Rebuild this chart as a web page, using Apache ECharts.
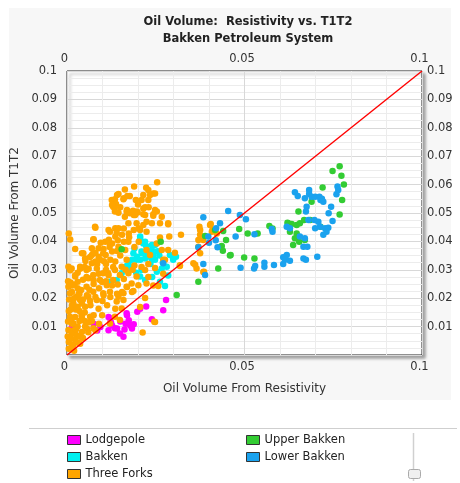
<!DOCTYPE html>
<html>
<head>
<meta charset="utf-8">
<script src="https://cdn.jsdelivr.net/npm/echarts@6/dist/echarts.min.js"></script>
<style>
html,body{margin:0;padding:0;background:#fff;}
#chart{width:460px;height:483px;}
</style>
</head>
<body>
<div id="chart"></div>
<script>
// ---- Data (Oil volume fractions) ----
const titleLines = ['Oil Volume:  Resistivity vs. T1T2', 'Bakken Petroleum System'];
const xAxisName = 'Oil Volume From Resistivity';
const yAxisName = 'Oil Volume From T1T2';
const seriesNames = ['Lodgepole', 'Bakken', 'Three Forks', 'Upper Bakken', 'Lower Bakken'];
const oneToOne = [[0, 0], [0.1, 0.1]];

const lodgepole = [
[0.0223,0.0171],[0.0279,0.0194],[0.0271,0.0158],[0.0239,0.0126],[0.0198,0.0152],[0.0206,0.0163],
[0.0168,0.0147],[0.0169,0.0140],[0.0174,0.0122],[0.0178,0.0104],[0.0183,0.0093],[0.0165,0.0110],
[0.0150,0.0118],[0.0121,0.0129],[0.0117,0.0134],[0.0124,0.0114],[0.0127,0.0104],[0.0135,0.0094],
[0.0141,0.0093],[0.0149,0.0076],[0.0159,0.0064],[0.0117,0.0087],[0.0094,0.0099],[0.0085,0.0086],
[0.0075,0.0110],[0.0014,0.0099],[0.0188,0.0108],[0.0162,0.0090]
];

const bakken = [
[0.0206,0.0411],[0.0215,0.0393],[0.0223,0.0384],[0.0232,0.0367],[0.0239,0.0370],[0.0226,0.0346],
[0.0187,0.0358],[0.0196,0.0335],[0.0182,0.0311],[0.0210,0.0299],[0.0206,0.0276],[0.0220,0.0264],
[0.0253,0.0293],[0.0267,0.0305],[0.0281,0.0311],[0.0262,0.0258],[0.0276,0.0243],[0.0299,0.0335],
[0.0307,0.0346],[0.0248,0.0335],[0.0235,0.0320],[0.0168,0.0313],[0.0154,0.0288],[0.0140,0.0264],
[0.0121,0.0258],[0.0206,0.0417],[0.0220,0.0399],[0.0239,0.0387],[0.0248,0.0387],[0.0210,0.0364],
[0.0229,0.0358],[0.0243,0.0352],[0.0206,0.0335],[0.0220,0.0340],[0.0239,0.0335],[0.0290,0.0352],
[0.0299,0.0340],[0.0183,0.0335],[0.0197,0.0346],[0.0211,0.0358],[0.0206,0.0399],[0.0190,0.0375],
[0.0175,0.0330],[0.0255,0.0365],[0.0270,0.0325],[0.0195,0.0290],[0.0240,0.0275],[0.0285,0.0280],
[0.0170,0.0300],[0.0260,0.0350]
];

const threeForks = [
[0.0254,0.0608],[0.0189,0.0593],[0.0163,0.0583],[0.0223,0.0589],[0.0229,0.0581],[0.0145,0.0567],
[0.0177,0.0560],[0.0215,0.0563],[0.0234,0.0563],[0.0248,0.0569],[0.0126,0.0546],[0.0135,0.0548],
[0.0159,0.0548],[0.0194,0.0546],[0.0229,0.0546],[0.0130,0.0522],[0.0138,0.0532],[0.0220,0.0520],
[0.0135,0.0505],[0.0145,0.0501],[0.0168,0.0505],[0.0177,0.0499],[0.0186,0.0508],[0.0199,0.0502],
[0.0215,0.0496],[0.0243,0.0496],[0.0253,0.0505],[0.0160,0.0552],[0.0141,0.0563],[0.0127,0.0528],
[0.0134,0.0517],[0.0169,0.0511],[0.0188,0.0493],[0.0197,0.0505],[0.0243,0.0569],[0.0210,0.0546],
[0.0215,0.0516],[0.0248,0.0511],[0.0243,0.0490],[0.0267,0.0487],[0.0285,0.0460],[0.0224,0.0469],
[0.0239,0.0464],[0.0262,0.0464],[0.0285,0.0464],[0.0196,0.0464],[0.0173,0.0464],[0.0163,0.0487],
[0.0192,0.0493],[0.0220,0.0493],
[0.0080,0.0448],[0.0117,0.0440],[0.0136,0.0446],[0.0145,0.0446],[0.0136,0.0417],[0.0155,0.0423],
[0.0174,0.0428],[0.0188,0.0440],[0.0202,0.0446],[0.0206,0.0440],[0.0224,0.0434],[0.0215,0.0458],
[0.0121,0.0434],[0.0079,0.0452],[0.0005,0.0428],[0.0009,0.0407],[0.0023,0.0373],[0.0075,0.0408],
[0.0108,0.0399],[0.0118,0.0406],[0.0127,0.0393],[0.0143,0.0404],[0.0160,0.0399],[0.0173,0.0399],
[0.0202,0.0399],[0.0089,0.0376],[0.0103,0.0373],[0.0042,0.0358],[0.0070,0.0352],[0.0089,0.0346],
[0.0109,0.0352],[0.0127,0.0364],[0.0141,0.0366],[0.0164,0.0370],[0.0145,0.0381],[0.0121,0.0393],
[0.0070,0.0376],[0.0074,0.0407],[0.0046,0.0358],[0.0074,0.0358],[0.0102,0.0358],[0.0052,0.0331],
[0.0080,0.0329],[0.0104,0.0330],[0.0122,0.0335],[0.0136,0.0329],[0.0093,0.0335],[0.0168,0.0335],
[0.0051,0.0340],[0.0070,0.0323],[0.0037,0.0311],[0.0004,0.0311],[0.0013,0.0305],[0.0023,0.0276],
[0.0055,0.0299],[0.0084,0.0305],[0.0102,0.0288],[0.0116,0.0288],[0.0135,0.0299],[0.0149,0.0282],
[0.0154,0.0311],[0.0074,0.0282],[0.0093,0.0264],[0.0130,0.0264],[0.0112,0.0246],[0.0004,0.0240],
[0.0008,0.0217],[0.0027,0.0205],[0.0018,0.0182],[0.0037,0.0194],[0.0055,0.0240],[0.0074,0.0223],
[0.0060,0.0205],[0.0084,0.0194],[0.0051,0.0170],[0.0041,0.0141],[0.0065,0.0135],[0.0008,0.0135],
[0.0018,0.0111],[0.0004,0.0088],[0.0023,0.0076],[0.0037,0.0064],[0.0008,0.0053],[0.0018,0.0035],
[0.0032,0.0043],[0.0051,0.0100],[0.0074,0.0094],[0.0121,0.0111],[0.0135,0.0135],[0.0149,0.0123],
[0.0154,0.0164],[0.0140,0.0188],[0.0159,0.0194],[0.0145,0.0205],[0.0102,0.0217],[0.0121,0.0223],
[0.0159,0.0217],[0.0168,0.0240],[0.0182,0.0252],[0.0201,0.0246],[0.0224,0.0252],[0.0196,0.0276],
[0.0220,0.0299],[0.0229,0.0320],[0.0271,0.0335],[0.0224,0.0370],[0.0253,0.0393],[0.0262,0.0414],
[0.0285,0.0370],[0.0304,0.0360],[0.0318,0.0313],[0.0246,0.0117],[0.0213,0.0079],[0.0288,0.0417],
[0.0321,0.0423],[0.0234,0.0352],[0.0267,0.0370],[0.0276,0.0335],[0.0373,0.0452],[0.0375,0.0423],
[0.0403,0.0458],[0.0410,0.0440],[0.0375,0.0358],[0.0370,0.0381],[0.0370,0.0405],[0.0356,0.0323],
[0.0365,0.0305],[0.0386,0.0293],[0.0405,0.0461],[0.0422,0.0428],[0.0009,0.0298],[0.0023,0.0281],
[0.0037,0.0304],[0.0061,0.0304],[0.0089,0.0286],[0.0117,0.0281],[0.0075,0.0263],[0.0099,0.0257],
[0.0127,0.0245],[0.0014,0.0222],[0.0033,0.0216],[0.0056,0.0210],[0.0080,0.0204],[0.0103,0.0210],
[0.0122,0.0204],[0.0141,0.0216],[0.0155,0.0222],[0.0169,0.0239],[0.0183,0.0222],[0.0014,0.0175],
[0.0042,0.0181],[0.0066,0.0175],[0.0089,0.0163],[0.0113,0.0175],[0.0136,0.0163],[0.0099,0.0140],
[0.0075,0.0140],[0.0042,0.0134],[0.0023,0.0134],[0.0014,0.0110],[0.0019,0.0087],[0.0014,0.0075],
[0.0028,0.0069],[0.0042,0.0081],[0.0056,0.0093],[0.0080,0.0087],[0.0005,0.0046],[0.0014,0.0034],
[0.0023,0.0055],[0.0005,0.0022],[0.0037,0.0040],[0.0210,0.0310],[0.0248,0.0306],[0.0229,0.0275],
[0.0243,0.0245],[0.0257,0.0243],[0.0271,0.0286],[0.0318,0.0316],[0.0361,0.0318],[0.0384,0.0292],
[0.0206,0.0169],[0.0248,0.0116],[0.0220,0.0201],[0.0384,0.0405],[0.0408,0.0434],[0.0375,0.0440],
[0.0003,0.0260],[0.0010,0.0255],[0.0020,0.0248],[0.0030,0.0235],[0.0006,0.0195],[0.0025,0.0160],
[0.0035,0.0155],[0.0005,0.0155],[0.0050,0.0120],[0.0030,0.0100],[0.0003,0.0118],[0.0062,0.0115],
[0.0020,0.0015],[0.0002,0.0065],[0.0045,0.0265],[0.0060,0.0270],[0.0030,0.0258],[0.0040,0.0229],
[0.0063,0.0230],[0.0090,0.0235],[0.0110,0.0260],[0.0143,0.0248],[0.0160,0.0268],[0.0173,0.0288],
[0.0185,0.0300],[0.0165,0.0300],[0.0190,0.0315],[0.0187,0.0225],
[0.0010,0.0160],[0.0030,0.0170],[0.0050,0.0150],[0.0015,0.0130],[0.0035,0.0120],[0.0010,0.0060],
[0.0025,0.0090],[0.0045,0.0060],[0.0060,0.0080],[0.0070,0.0120],[0.0090,0.0110],[0.0100,0.0190],
[0.0020,0.0200],[0.0045,0.0195],[0.0065,0.0190],[0.0030,0.0290],[0.0050,0.0310],[0.0065,0.0345],
[0.0085,0.0320],[0.0110,0.0320],[0.0095,0.0395],[0.0140,0.0430],[0.0160,0.0445],[0.0175,0.0415],
[0.0190,0.0380],[0.0150,0.0350],[0.0130,0.0310],[0.0110,0.0300],[0.0170,0.0560],[0.0200,0.0530],
[0.0150,0.0520],[0.0230,0.0520],[0.0120,0.0380],[0.0080,0.0360],[0.0055,0.0275],[0.0035,0.0215],
[0.0015,0.0245],[0.0075,0.0250]
];

const upperBakken = [
[0.0768,0.0665],[0.0748,0.0648],[0.0773,0.0631],[0.0780,0.0600],[0.0720,0.0590],[0.0775,0.0546],
[0.0768,0.0495],[0.0714,0.0452],[0.0689,0.0540],[0.0652,0.0505],[0.0621,0.0466],[0.0633,0.0461],
[0.0647,0.0458],[0.0656,0.0464],[0.0668,0.0475],[0.0685,0.0475],[0.0628,0.0434],[0.0647,0.0428],
[0.0642,0.0411],[0.0637,0.0387],[0.0654,0.0399],[0.0670,0.0405],[0.0570,0.0454],[0.0579,0.0445],
[0.0623,0.0464],[0.0509,0.0428],[0.0537,0.0428],[0.0485,0.0444],[0.0448,0.0405],[0.0434,0.0381],
[0.0439,0.0367],[0.0459,0.0350],[0.0499,0.0343],[0.0528,0.0340],[0.0426,0.0305],[0.0417,0.0440],
[0.0389,0.0419],[0.0440,0.0437],[0.0436,0.0384],[0.0461,0.0352],[0.0370,0.0258],[0.0309,0.0211],
[0.0264,0.0399],[0.0154,0.0372]
];

const lowerBakken = [
[0.0642,0.0573],[0.0650,0.0560],[0.0682,0.0581],[0.0682,0.0567],[0.0670,0.0552],[0.0689,0.0557],
[0.0699,0.0557],[0.0711,0.0557],[0.0714,0.0546],[0.0722,0.0540],[0.0718,0.0550],[0.0762,0.0593],
[0.0764,0.0581],[0.0759,0.0566],[0.0675,0.0522],[0.0673,0.0505],[0.0744,0.0522],[0.0680,0.0475],
[0.0697,0.0475],[0.0708,0.0469],[0.0713,0.0452],[0.0699,0.0446],[0.0727,0.0446],[0.0731,0.0434],
[0.0722,0.0423],[0.0748,0.0472],[0.0736,0.0448],[0.0619,0.0452],[0.0628,0.0446],[0.0670,0.0411],
[0.0656,0.0417],[0.0666,0.0381],[0.0677,0.0381],[0.0619,0.0352],[0.0609,0.0344],[0.0614,0.0335],
[0.0609,0.0320],[0.0666,0.0340],[0.0673,0.0335],[0.0705,0.0346],[0.0583,0.0317],[0.0556,0.0311],
[0.0530,0.0313],[0.0527,0.0305],[0.0489,0.0307],[0.0577,0.0444],[0.0579,0.0434],[0.0528,0.0425],
[0.0475,0.0417],[0.0504,0.0478],[0.0487,0.0493],[0.0454,0.0507],[0.0424,0.0379],[0.0419,0.0404],
[0.0384,0.0485],[0.0384,0.0320],[0.0389,0.0282],[0.0398,0.0417],[0.0431,0.0464],[0.0420,0.0446],
[0.0737,0.0499],[0.0400,0.0395],[0.0370,0.0379],[0.0556,0.0325],[0.0628,0.0332],[0.0271,0.0323]
];

const seriesData = [lodgepole, bakken, threeForks, upperBakken, lowerBakken];
const seriesColors = ['#ff00ff', '#00f0f0', '#ffa500', '#33cc33', '#1aa2ee'];

const FONT = 'DejaVu Sans';
const fmt = v => (Math.abs(v) < 1e-9 ? '0' : String(parseFloat(v.toFixed(3))));
const yfmt = v => (Math.abs(v) < 1e-9 ? '' : String(parseFloat(v.toFixed(3))));

const chart = echarts.init(document.getElementById('chart'), null, {renderer: 'canvas'});

const xCommon = {
  type: 'value', min: 0, max: 0.1, interval: 0.05,
  axisLine: {show: false}, axisTick: {show: false},
  axisLabel: {formatter: fmt, color: '#333', fontFamily: FONT, fontSize: 11.5, margin: 6, padding: [0, 5, 0, 0]}
};
const yCommon = {
  type: 'value', min: 0, max: 0.1, interval: 0.01,
  axisLine: {show: false}, axisTick: {show: false}
};

const series = seriesNames.map((name, i) => ({
  name: name,
  type: 'scatter',
  xAxisIndex: 0, yAxisIndex: 0,
  symbol: 'circle',
  symbolSize: 6.5,
  itemStyle: {color: seriesColors[i], opacity: 1},
  emphasis: {disabled: true},
  data: seriesData[i],
  z: 2
}));
series.push({
  name: '1:1', type: 'line', data: oneToOne, symbol: 'none',
  lineStyle: {color: '#ff0000', width: 1.5}, z: 5, silent: true
});

const legendCommon = {
  orient: 'vertical', top: 433, padding: 0, height: 50,
  itemWidth: 13, itemHeight: 9, itemGap: 3, icon: 'rect',
  itemStyle: {borderColor: '#333', borderWidth: 1},
  textStyle: {fontFamily: FONT, fontSize: 11.5, color: '#222', lineHeight: 14},
  selectedMode: false
};

chart.setOption({
  animation: false,
  backgroundColor: '#ffffff',
  graphic: [
    {type: 'rect', shape: {x: 9, y: 8, width: 442, height: 392}, style: {fill: '#f7f7f7'}, z: -10, silent: true},
    {type: 'line', shape: {x1: 29, y1: 428.5, x2: 457, y2: 428.5}, style: {stroke: '#cfcfcf', lineWidth: 1}, silent: true},
    {type: 'line', shape: {x1: 413.5, y1: 433, x2: 413.5, y2: 481}, style: {stroke: '#d0d0d0', lineWidth: 1.5}, silent: true},
    {type: 'rect', shape: {x: 408.5, y: 469.5, width: 12, height: 9, r: 2}, style: {fill: '#f0f0f0', stroke: '#aaaaaa', lineWidth: 1}, silent: true}
  ],
  title: {
    text: titleLines.join('\n'),
    left: 243, top: 9, textAlign: 'center',
    textStyle: {fontFamily: FONT, fontWeight: 'bold', fontSize: 11.5, color: '#222', lineHeight: 17}
  },
  grid: {
    left: 67, top: 71, width: 355, height: 284,
    show: true, backgroundColor: '#ffffff', borderColor: '#222', borderWidth: 1,
    shadowColor: 'rgba(0,0,0,0.35)', shadowBlur: 3, shadowOffsetX: 3, shadowOffsetY: 3
  },
  xAxis: [
    Object.assign({}, xCommon, {
      position: 'bottom',
      name: xAxisName, nameLocation: 'middle', nameGap: 28,
      nameTextStyle: {fontFamily: FONT, fontSize: 12, color: '#333'},
      splitLine: {show: true, lineStyle: {color: '#d8d8d8', width: 1}},
      minorTick: {show: false, splitNumber: 5},
      minorSplitLine: {show: true, lineStyle: {color: '#ececec', width: 1}}
    }),
    Object.assign({}, xCommon, {position: 'top', splitLine: {show: false}})
  ],
  yAxis: [
    Object.assign({}, yCommon, {
      position: 'left',
      name: yAxisName, nameLocation: 'middle', nameGap: 44,
      nameTextStyle: {fontFamily: FONT, fontSize: 12, color: '#333'},
      axisLabel: {formatter: yfmt, color: '#333', fontFamily: FONT, fontSize: 11.5, margin: 10},
      splitLine: {show: true, lineStyle: {color: '#d8d8d8', width: 1}},
      minorTick: {show: false, splitNumber: 4},
      minorSplitLine: {show: true, lineStyle: {color: '#ececec', width: 1}}
    }),
    Object.assign({}, yCommon, {
      position: 'right',
      axisLabel: {formatter: yfmt, color: '#333', fontFamily: FONT, fontSize: 11.5, margin: 5},
      splitLine: {show: false}
    })
  ],
  legend: [
    Object.assign({}, legendCommon, {data: seriesNames.slice(0, 3), left: 67}),
    Object.assign({}, legendCommon, {data: seriesNames.slice(3), left: 246})
  ],
  series: series
});
</script>
</body>
</html>
